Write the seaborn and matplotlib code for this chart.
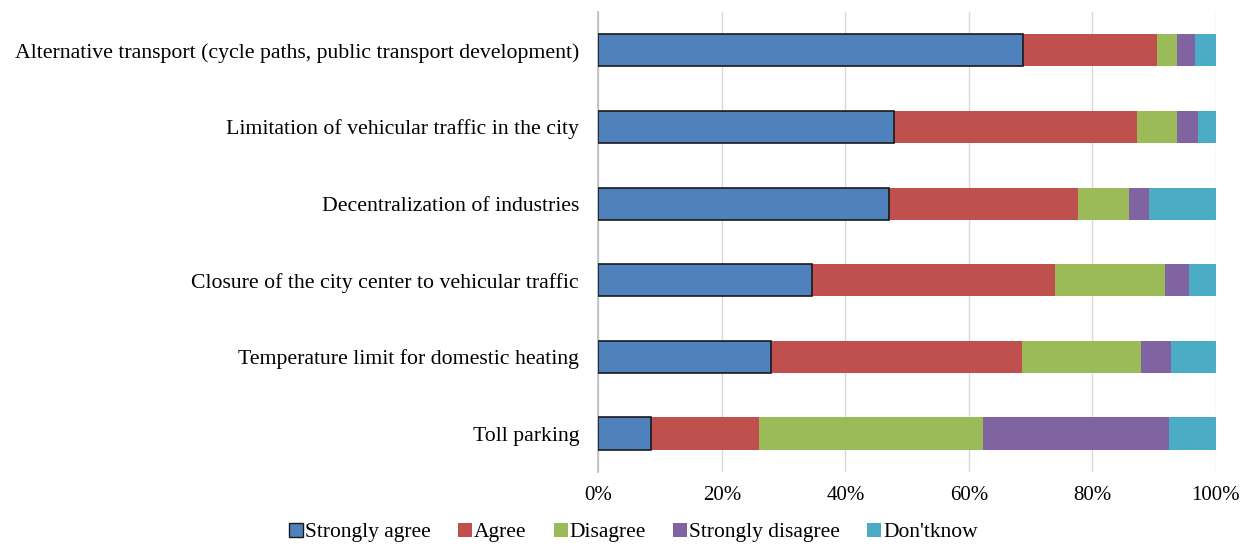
import pandas as pd
import seaborn as sns
import matplotlib.pyplot as plt
from matplotlib.patches import Patch

# Dados (% de respostas)
medidas = [
    "Alternative transport (cycle paths, public transport development)",
    "Limitation of vehicular traffic in the city",
    "Decentralization of industries",
    "Closure of the city center to vehicular traffic",
    "Temperature limit for domestic heating",
    "Toll parking",
]
strongly_agree = [68.8, 47.9, 47.0, 34.6, 28.0, 8.5]
agree = [21.7, 39.4, 30.7, 39.4, 40.6, 17.5]
disagree = [3.3, 6.4, 8.2, 17.8, 19.3, 36.3]
strongly_disagree = [2.8, 3.5, 3.3, 3.8, 4.8, 30.2]
dont_know = [3.4, 2.8, 10.8, 4.4, 7.3, 7.5]

categorias = ["Strongly agree", "Agree", "Disagree", "Strongly disagree", "Don'tknow"]
cores = ["#4F81BD", "#C0504D", "#9BBB59", "#8064A2", "#4BACC6"]

df = pd.DataFrame({
    "Medida": medidas,
    "Strongly agree": strongly_agree,
    "Agree": agree,
    "Disagree": disagree,
    "Strongly disagree": strongly_disagree,
    "Don'tknow": dont_know,
})
# cumulativo para empilhar
cum = df[categorias].cumsum(axis=1)
cum = cum.div(cum["Don'tknow"], axis=0) * 100
cum["Medida"] = df["Medida"]

sns.set_theme(style="white")
plt.rcParams["font.family"] = ["Liberation Serif", "DejaVu Serif"]
plt.rcParams["text.color"] = "black"
plt.rcParams["xtick.color"] = "black"
plt.rcParams["ytick.color"] = "black"

fig = plt.figure(figsize=(12.52, 5.48), dpi=100)
ax = fig.add_axes([0.478, 0.139, 0.493, 0.839])

# desenha do último para o primeiro (sobreposição)
for cat, cor in reversed(list(zip(categorias, cores))):
    borda = "#1a1a1a" if cat == "Strongly agree" else "none"
    sns.barplot(data=cum, x=cat, y="Medida", color=cor, orient="h",
                width=0.42, edgecolor=borda, linewidth=1.2 if borda != "none" else 0,
                saturation=1, ax=ax, zorder=3)

ax.set_xlim(0, 100)
ax.set_xticks(range(0, 101, 20))
ax.set_xticklabels([f"{v}%" for v in range(0, 101, 20)], fontsize=15)
ax.tick_params(axis="y", labelsize=15.7, length=0, pad=14)
ax.tick_params(axis="x", length=0, pad=10)
ax.set_xlabel("")
ax.set_ylabel("")
ax.grid(axis="x", color="#d9d9d9", linewidth=1, zorder=0)
ax.set_axisbelow(True)
for s in ["top", "right", "bottom"]:
    ax.spines[s].set_visible(False)
ax.spines["left"].set_color("#bfbfbf")

handles = [Patch(facecolor=c, edgecolor="#1a1a1a" if i == 0 else c, linewidth=1 if i == 0 else 0)
           for i, c in enumerate(cores)]
fig.legend(handles, categorias, loc="lower center", bbox_to_anchor=(0.506, -0.025), ncol=5,
           frameon=False, fontsize=15.5, handlelength=0.65, handleheight=0.65,
           handletextpad=0.1, columnspacing=1.25)

plt.savefig("out.png", dpi=100)
